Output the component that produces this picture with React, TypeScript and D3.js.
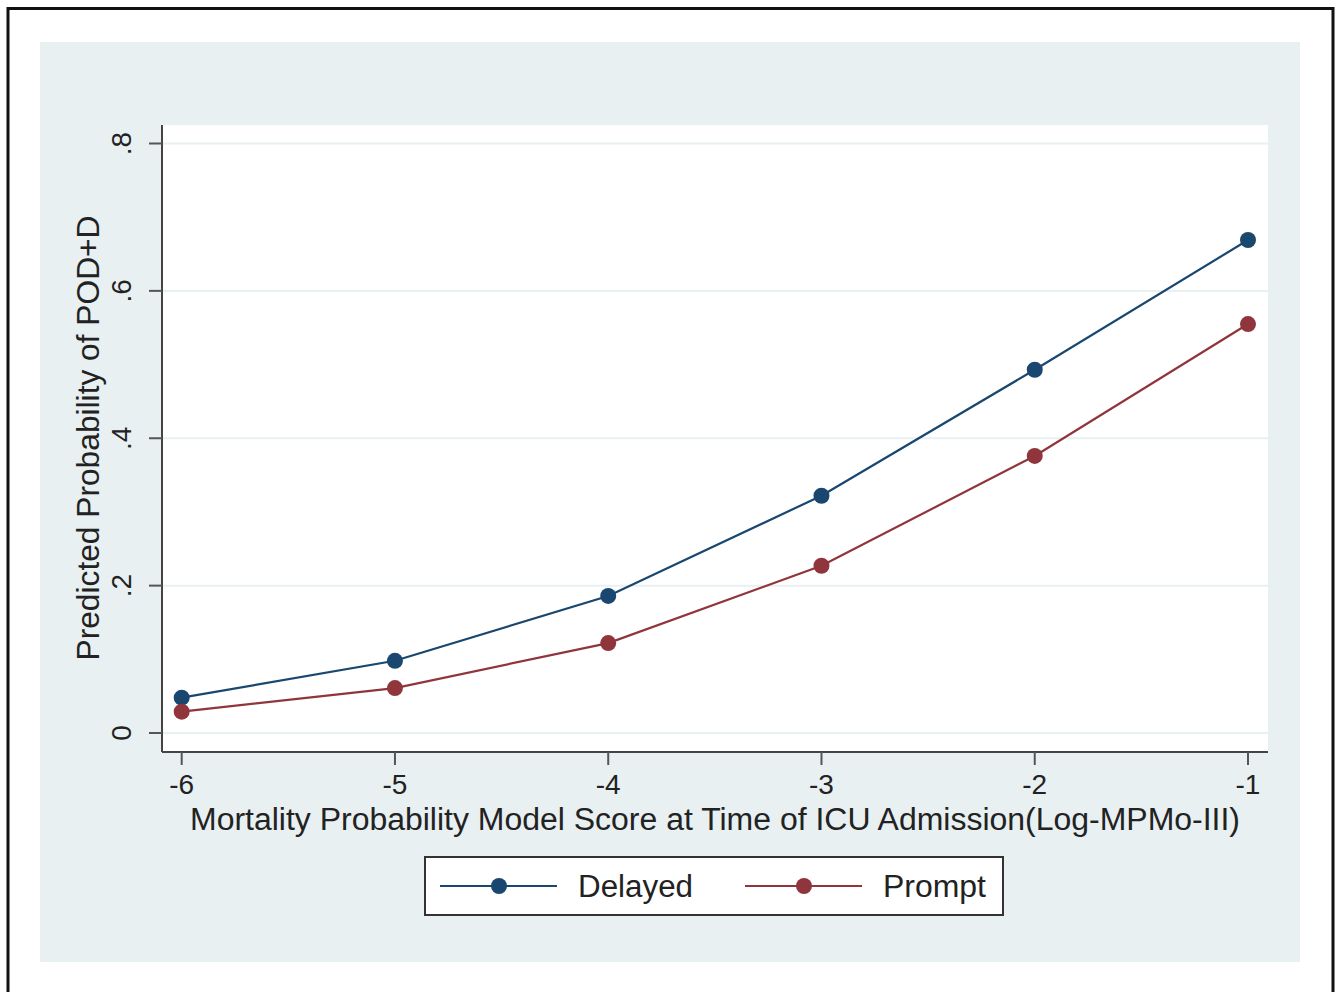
import React, { useEffect, useRef } from "react";
import * as d3 from "d3";

const xValues = [-6, -5, -4, -3, -2, -1];
const delayedValues = [0.048, 0.098, 0.186, 0.322, 0.493, 0.669];
const promptValues = [0.029, 0.061, 0.122, 0.227, 0.376, 0.555];
const yTicks = [0, 0.2, 0.4, 0.6, 0.8];
const yTickLabels = ["0", ".2", ".4", ".6", ".8"];
const seriesNames = ["Delayed", "Prompt"];
const seriesColors = ["#1a476f", "#90353b"];

export default function App() {
  const ref = useRef<SVGSVGElement | null>(null);

  function drawChart() {
    const [width, height] = [1341, 992];
    const plot = { left: 162, right: 1268, top: 125, bottom: 752 };
    const font = "'Liberation Sans', Arial, sans-serif";

    const svg = d3.select(ref.current);
    svg.selectAll("*").remove();

    // outer frame + stata-ish background
    svg.append("rect").attr("width", width).attr("height", height).attr("fill", "#fff");
    svg
      .append("rect")
      .attr("x", 8)
      .attr("y", 8.5)
      .attr("width", 1325)
      .attr("height", 1000)
      .attr("fill", "none")
      .attr("stroke", "#111")
      .attr("stroke-width", 3);
    svg
      .append("rect")
      .attr("x", 40)
      .attr("y", 42)
      .attr("width", 1260)
      .attr("height", 920)
      .attr("fill", "#e8f0f2");
    svg
      .append("rect")
      .attr("x", plot.left)
      .attr("y", plot.top)
      .attr("width", plot.right - plot.left)
      .attr("height", plot.bottom - plot.top)
      .attr("fill", "#fff");

    const xScale = d3.scaleLinear().domain([-6, -1]).range([181.7, 1248]);
    const yScale = d3.scaleLinear().domain([0, 0.8]).range([733, 143.5]);

    // grid
    svg
      .append("g")
      .selectAll("line")
      .data(yTicks)
      .join("line")
      .attr("x1", plot.left)
      .attr("x2", plot.right)
      .attr("y1", (d) => yScale(d))
      .attr("y2", (d) => yScale(d))
      .attr("stroke", "#e8f0f2")
      .attr("stroke-width", 2);

    // y axis
    const yAxisG = svg.append("g").attr("transform", `translate(${plot.left},0)`);
    yAxisG
      .append("line")
      .attr("y1", plot.top)
      .attr("y2", plot.bottom)
      .attr("stroke", "#444")
      .attr("stroke-width", 2);
    yAxisG
      .selectAll("line.tick")
      .data(yTicks)
      .join("line")
      .attr("class", "tick")
      .attr("x1", -13)
      .attr("x2", 0)
      .attr("y1", (d) => yScale(d))
      .attr("y2", (d) => yScale(d))
      .attr("stroke", "#555")
      .attr("stroke-width", 2);
    yAxisG
      .selectAll("text")
      .data(yTicks)
      .join("text")
      .attr("transform", (d) => `translate(-31,${yScale(d)}) rotate(-90)`)
      .attr("text-anchor", "middle")
      .attr("font-family", font)
      .attr("font-size", 28)
      .attr("fill", "#222")
      .text((d, i) => yTickLabels[i]);

    svg
      .append("text")
      .attr("transform", `translate(99,${438}) rotate(-90)`)
      .attr("text-anchor", "middle")
      .attr("font-family", font)
      .attr("font-size", 31)
      .attr("textLength", 445)
      .attr("lengthAdjust", "spacingAndGlyphs")
      .attr("fill", "#222")
      .text("Predicted Probability of POD+D");

    // x axis
    const xAxisG = svg.append("g").attr("transform", `translate(0,${plot.bottom})`);
    xAxisG
      .append("line")
      .attr("x1", plot.left)
      .attr("x2", plot.right)
      .attr("stroke", "#444")
      .attr("stroke-width", 2);
    xAxisG
      .selectAll("line.tick")
      .data(xValues)
      .join("line")
      .attr("class", "tick")
      .attr("x1", (d) => xScale(d))
      .attr("x2", (d) => xScale(d))
      .attr("y1", 0)
      .attr("y2", 13)
      .attr("stroke", "#555")
      .attr("stroke-width", 2);
    xAxisG
      .selectAll("text")
      .data(xValues)
      .join("text")
      .attr("x", (d) => xScale(d))
      .attr("y", 42)
      .attr("text-anchor", "middle")
      .attr("font-family", font)
      .attr("font-size", 28)
      .attr("fill", "#222")
      .text((d) => `${d}`);

    svg
      .append("text")
      .attr("x", 715)
      .attr("y", 830)
      .attr("text-anchor", "middle")
      .attr("font-family", font)
      .attr("font-size", 31)
      .attr("textLength", 1050)
      .attr("lengthAdjust", "spacingAndGlyphs")
      .attr("fill", "#222")
      .text("Mortality Probability Model Score at Time of ICU Admission(Log-MPMo-III)");

    // series
    const line = d3
      .line<number>()
      .x((d, i) => xScale(xValues[i]))
      .y((d) => yScale(d));

    [delayedValues, promptValues].forEach((vals, s) => {
      const g = svg.append("g");
      g.append("path")
        .attr("d", line(vals))
        .attr("fill", "none")
        .attr("stroke", seriesColors[s])
        .attr("stroke-width", 2.2);
      g.selectAll("circle")
        .data(vals)
        .join("circle")
        .attr("cx", (d, i) => xScale(xValues[i]))
        .attr("cy", (d) => yScale(d))
        .attr("r", 8)
        .attr("fill", seriesColors[s]);
    });

    // legend
    const legend = svg.append("g");
    legend
      .append("rect")
      .attr("x", 425)
      .attr("y", 857)
      .attr("width", 578)
      .attr("height", 58)
      .attr("fill", "#fff")
      .attr("stroke", "#333")
      .attr("stroke-width", 2);
    const itemX = [440, 745];
    const textWidths = [115, 103];
    seriesNames.forEach((name, i) => {
      const x0 = itemX[i];
      legend
        .append("line")
        .attr("x1", x0)
        .attr("x2", x0 + 117)
        .attr("y1", 886)
        .attr("y2", 886)
        .attr("stroke", seriesColors[i])
        .attr("stroke-width", 2.2);
      legend
        .append("circle")
        .attr("cx", x0 + 59)
        .attr("cy", 886)
        .attr("r", 8)
        .attr("fill", seriesColors[i]);
      legend
        .append("text")
        .attr("x", x0 + 138)
        .attr("y", 897)
        .attr("font-family", font)
        .attr("font-size", 31)
        .attr("textLength", textWidths[i])
        .attr("lengthAdjust", "spacingAndGlyphs")
        .attr("fill", "#222")
        .text(name);
    });
  }

  useEffect(() => {
    drawChart();
  }, []);

  return (
    <svg
      ref={ref}
      width={1341}
      height={992}
      style={{ position: "absolute", left: 0, top: 0, display: "block" }}
    />
  );
}
